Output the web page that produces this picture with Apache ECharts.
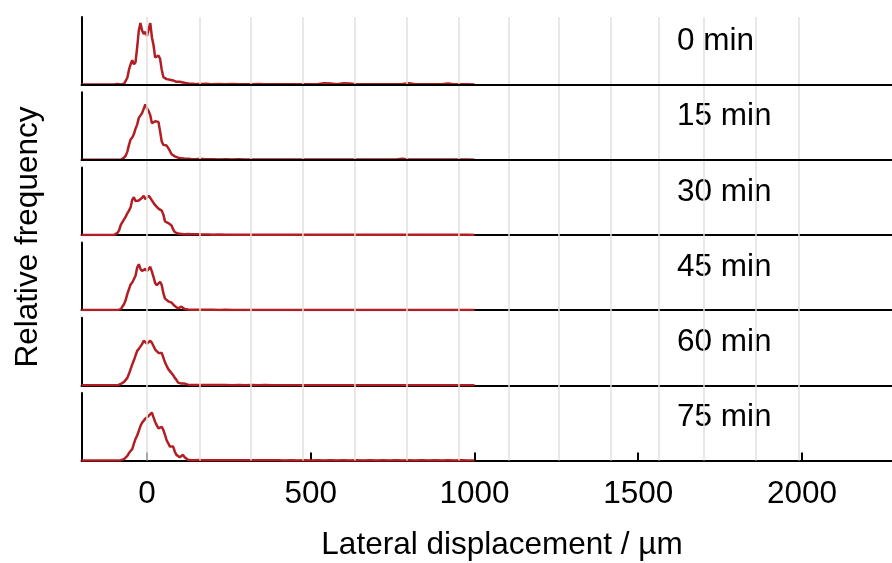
<!DOCTYPE html>
<html><head><meta charset="utf-8">
<script src="https://cdn.jsdelivr.net/npm/echarts@6/dist/echarts.min.js"></script>
<style>html,body{margin:0;padding:0;background:#fff}#c{width:892px;height:563px}</style>
</head><body><div id="c"></div>
<script>
// x positions (µm)
const xs = [-200,-150,-120,
 -100,-95,-90,-85,-80,-75,-70,-65,-60,-55,
 -50,-45,-40,-35,-30,-25,-20,-15,-10,-5,
 0,5,10,15,20,25,30,35,40,45,
 50,55,60,65,70,75,80,85,90,95,
 100,105,110,115,120,125,130,135,140,145,
 150,
 160,170,180,190,
 200,220,240,260,280,300,320,340,360,380,
 400,420,440,460,480,500,520,540,560,580,
 600,620,640,660,680,700,720,740,760,780,
 800,820,840,860,880,900,920,940,960,980,
 1000];

const f0 = [0,0,0,
 0,0,0.8,0,0,0.5,1,3,10,22,
 30,36,30,33,55,80,91,80,75,78,
 72,82,91,70,58,40,38,43,38,22,
 11,9,8,6,7,5,6,6,4,5,
 4,3,3,2,2,1.5,1,1,1,0.5,
 0.5,
 1,0.8,1,0.6,
 0.5,0.6,0.4,0.8,0.3,0.5,0.3,0.6,0.2,0.4,
 0.3,0.2,0.5,0.2,0.3,0.2,0.4,1.8,1.6,0.3,
 1.8,1.5,0.3,0.2,0.4,0.2,0.3,0.2,0.3,0.6,
 1.8,0.4,0.2,0.3,0.2,0.3,1.5,0.2,0.3,0.2,
 0];
const f15 = [0,0,0,
 0,0,0,0,0,1,3,6,12,22,
 30,33,38,46,52,62,63,69,71,82,
 76,72,66,54,55,57,59,56,42,27,
 22,23,21,17,13,8,6,5,4,3,
 2.5,2,1.5,1.5,1,1.5,1,1,0.8,0.6,
 0.5,
 1,1.2,0.8,0.5,
 0.6,0.4,0.5,0.3,0.5,0.3,0.2,0.4,0.3,0.2,
 0.3,0.2,0.3,0.2,0.4,0.2,0.3,0.2,0.4,0.2,
 0.3,0.2,0.3,0.2,0.3,0.2,0.3,0.2,0.3,1.5,
 0.3,0.2,0.3,0.2,0.3,0.2,0.3,0.2,0.3,0.2,
 0];
const f30 = [0,0,0,
 0,1,3,7,15,19,23,27,32,36,
 41,52,56,50,49,51,53,55,58,53,
 55,58,55,51,49,44,42,39,39,36,
 30,20,18,17.6,16,14,8,4,2.5,2,
 2,1.5,1.5,1,1,1.2,0.8,1,0.6,0.8,
 0.5,
 0.8,0.6,0.5,0.6,
 0.4,0.5,0.3,0.4,0.2,0.3,0.2,0.3,0.2,0.2,
 0.2,0.1,0.2,0.1,0.2,0.1,0.2,0.1,0.2,0.1,
 0.2,0.1,0.2,0.1,0.2,0.1,0.2,0.1,0.2,0.1,
 0.2,0.1,0.2,0.1,0.2,0.1,0.2,0.1,0.2,0.1,
 0];
const f45 = [0,0,0,
 0,0,0,0.5,1.5,3,9,15,24,31,
 38,41,43,51,63,68,61,58,57,61,
 58,59,64,57,49,40,37,39,42,37,
 25,17,15,13,12,11,9,6,4,2.5,
 4,5,3.5,1.5,1,1,0.8,0.6,0.8,0.5,
 0.5,
 0.7,0.5,0.6,0.4,
 0.5,0.3,0.4,0.2,0.3,0.2,0.3,0.2,0.3,0.2,
 0.2,0.1,0.2,0.1,0.2,0.1,0.2,0.1,0.2,0.1,
 0.2,0.1,0.2,0.1,0.2,0.1,0.2,0.1,0.2,0.1,
 0.2,0.1,0.2,0.1,0.2,0.1,0.2,0.1,0.2,0.1,
 0];
const f60 = [0,0,0,
 0,0,0,1,2,3,5,8,11,17,
 24,31,37,44,51,54,56,61,66,68,
 62,63,66,63,61,53,51,48,46,48,
 41,34,29,24,21,19,15,11,8,4,
 2,2.5,4,2.5,1,1,0.8,0.6,0.5,0.6,
 0.5,
 0.6,0.5,0.4,0.5,
 0.4,0.3,0.4,0.2,0.3,0.2,0.3,0.2,0.3,0.2,
 0.2,0.1,0.2,0.1,0.2,0.1,0.2,0.1,0.2,0.1,
 0.2,0.1,0.2,0.1,0.2,0.1,0.2,0.1,0.2,0.1,
 0.2,0.1,0.2,0.1,0.2,0.1,0.2,0.1,0.2,0.1,
 0];
const f75 = [0,0,0,
 0,0,0,0,0.5,1,2,4,7,11,
 14,17,25,32,37,44,51,56,58,62,
 60,66,68,71,64,57,52,47.5,45,50,
 45,38,30,25.5,20.6,23,20.6,13,8.3,5.9,
 4.9,6.9,8.3,4.9,2,1,0.5,0.5,0.6,0.4,
 0.5,
 0.6,0.4,0.5,0.3,
 0.4,0.3,0.4,0.2,0.3,0.2,0.3,0.2,0.3,0.2,
 0.2,0.1,0.2,0.1,0.2,0.1,0.2,0.1,0.2,0.1,
 0.2,0.1,0.2,0.1,0.2,0.1,0.2,0.1,0.2,0.1,
 0.2,0.1,0.2,0.1,0.2,0.1,0.2,0.1,0.2,0.1,
 0];

const panelLabels = ['0 min','15 min','30 min','45 min','60 min','75 min'];
const panelData = [f0, f15, f30, f45, f60, f75];
const xTickValues = [0, 500, 1000, 1500, 2000];
const gridLineX = [0,160,317,475,635,792,952,1104,1257,1416,1564,1701,1858,1990];
const xTitle = 'Lateral displacement / µm';
const yTitle = 'Relative frequency';

const FONT = '"Liberation Sans", Arial, Helvetica, sans-serif';
const FS = 31.5;
const RED = '#b11e23';
const LEFT = 81.5, TOP0 = 17, PITCH = 75.2, H = 67.5;
const XMIN = -200, XMAX = 2275;

const grids = [], xAxes = [], yAxes = [], series = [], graphics = [];
panelData.forEach((d, i) => {
  const top = TOP0 + PITCH * i;
  const last = i === panelData.length - 1;
  const under = i < 2; // axis drawn above curve in first two panels
  grids.push({left: LEFT, right: 0, top: top, height: H});
  xAxes.push({
    type: 'value', gridIndex: i, min: XMIN, max: XMAX, z: under ? 5 : 2,
    axisLine: {show: true, onZero: false, lineStyle: {color: '#000', width: 2}},
    axisTick: {show: last, inside: true, length: 8, customValues: xTickValues, lineStyle: {color: '#000', width: 2}},
    axisLabel: {show: last, customValues: xTickValues, fontSize: FS, fontFamily: FONT, color: '#000', margin: 18,
      formatter: v => String(v)},
    splitLine: {show: false}
  });
  yAxes.push({
    type: 'value', gridIndex: i, min: 0, max: 100, z: 2,
    axisLine: {show: true, onZero: false, lineStyle: {color: '#000', width: 2}},
    axisTick: {show: false}, axisLabel: {show: false}, splitLine: {show: false}
  });
  series.push({
    type: 'line', xAxisIndex: i, yAxisIndex: i, z: 3,
    data: xs.map((x, k) => [x, d[k]]),
    showSymbol: false, smooth: false, silent: true,
    lineStyle: {color: RED, width: 2.5}
  });
  graphics.push({
    type: 'text', x: 677, y: top + 24.5,
    style: {text: panelLabels[i], fontSize: FS, fontFamily: FONT, fill: '#000', align: 'left', verticalAlign: 'middle'}
  });
});

// background grid for the vertical reference lines
const bgIdx = panelData.length;
grids.push({left: LEFT, right: 0, top: TOP0, bottom: 563 - (TOP0 + PITCH * 5 + H)});
xAxes.push({type: 'value', gridIndex: bgIdx, min: XMIN, max: XMAX, show: false});
yAxes.push({type: 'value', gridIndex: bgIdx, min: 0, max: 1, show: false});
series.push({
  type: 'line', xAxisIndex: bgIdx, yAxisIndex: bgIdx, data: [], z: 1, silent: true,
  markLine: {
    silent: true, symbol: 'none', label: {show: false}, animation: false,
    lineStyle: {color: '#e4dfda', width: 1.5, type: 'solid'},
    data: gridLineX.map(v => ({xAxis: v}))
  }
});

graphics.push({
  type: 'text', x: 28, y: 237, rotation: Math.PI / 2,
  style: {text: yTitle, fontSize: FS, fontFamily: FONT, fill: '#000', align: 'center', verticalAlign: 'middle'}
});
graphics.push({
  type: 'text', x: 502, y: 545,
  style: {text: xTitle, fontSize: FS, fontFamily: FONT, fill: '#000', align: 'center', verticalAlign: 'middle'}
});

const chart = echarts.init(document.getElementById('c'), null, {renderer: 'canvas'});
chart.setOption({
  animation: false,
  backgroundColor: '#fff',
  grid: grids, xAxis: xAxes, yAxis: yAxes, series: series,
  graphic: graphics
});
</script></body></html>
